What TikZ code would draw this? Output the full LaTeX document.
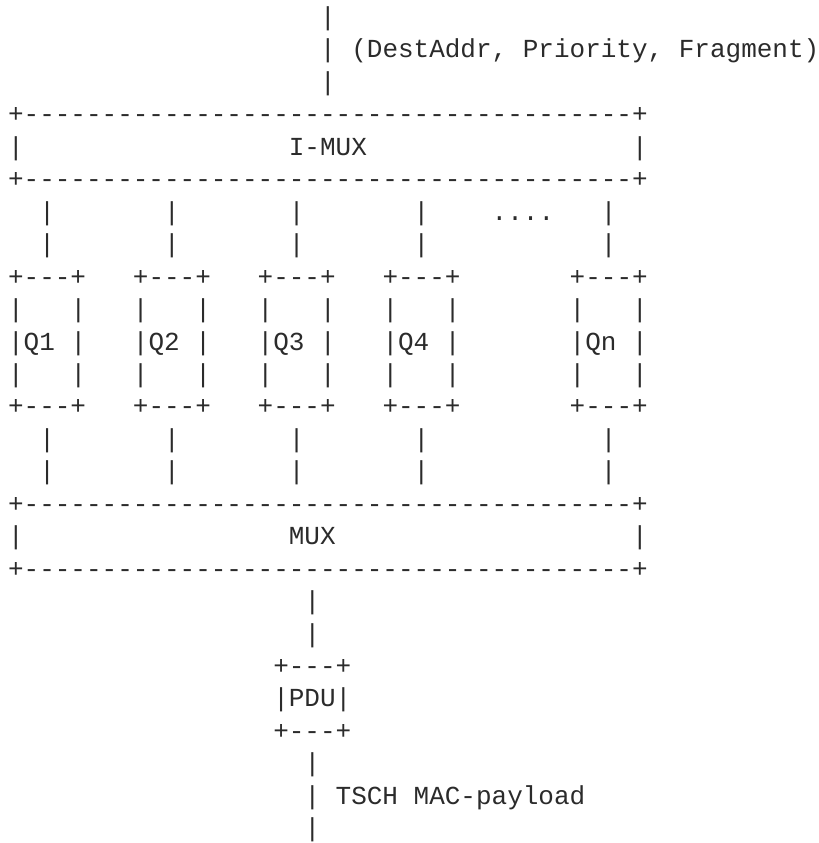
\documentclass[tikz,border=0pt]{standalone}
\usepackage{fontspec}
\newfontfamily\asciifont{Liberation Mono}[Ligatures=TeXOff]
\definecolor{ink}{HTML}{2B2B2B}
\tikzset{txt/.style={font=\asciifont\fontsize{13pt}{16pt}\selectfont, inner sep=0pt, anchor=base west, text=ink}}
\newcommand\tk[3]{\node[txt, name=n#1-#2] at ({3.85pt+#2*7.8pt},{-12.75pt-(#1-1)*16.225pt}) {#3};}
\newcommand\dashline{+---------------------------------------+}
\begin{document}
\begin{tikzpicture}
\useasboundingbox (0,0) rectangle (409.5pt,-421.5pt);
% incoming
\tk{1}{20}{|}
\tk{2}{20}{|}\tk{2}{22}{(DestAddr, Priority, Fragment)}
\tk{3}{20}{|}
% I-MUX
\tk{4}{0}{\dashline}
\tk{5}{0}{|}\tk{5}{18}{I-MUX}\tk{5}{40}{|}
\tk{6}{0}{\dashline}
% links to queues
\foreach \c in {2,10,18,26,38}{\tk{7}{\c}{|}\tk{8}{\c}{|}}
\tk{7}{31}{....}
% queues
\foreach \c/\q in {0/Q1,8/Q2,16/Q3,24/Q4,36/Qn}{
  \pgfmathtruncatemacro\cc{\c+4}
  \tk{9}{\c}{+---+}
  \tk{10}{\c}{|}\tk{10}{\cc}{|}
  \tk{11}{\c}{|\q}\tk{11}{\cc}{|}
  \tk{12}{\c}{|}\tk{12}{\cc}{|}
  \tk{13}{\c}{+---+}
}
\foreach \c in {2,10,18,26,38}{\tk{14}{\c}{|}\tk{15}{\c}{|}}
% MUX
\tk{16}{0}{\dashline}
\tk{17}{0}{|}\tk{17}{18}{MUX}\tk{17}{40}{|}
\tk{18}{0}{\dashline}
\tk{19}{19}{|}
\tk{20}{19}{|}
% PDU
\tk{21}{17}{+---+}
\tk{22}{17}{|PDU|}
\tk{23}{17}{+---+}
\tk{24}{19}{|}
\tk{25}{19}{|}\tk{25}{21}{TSCH MAC-payload}
\tk{26}{19}{|}
\end{tikzpicture}
\end{document}
